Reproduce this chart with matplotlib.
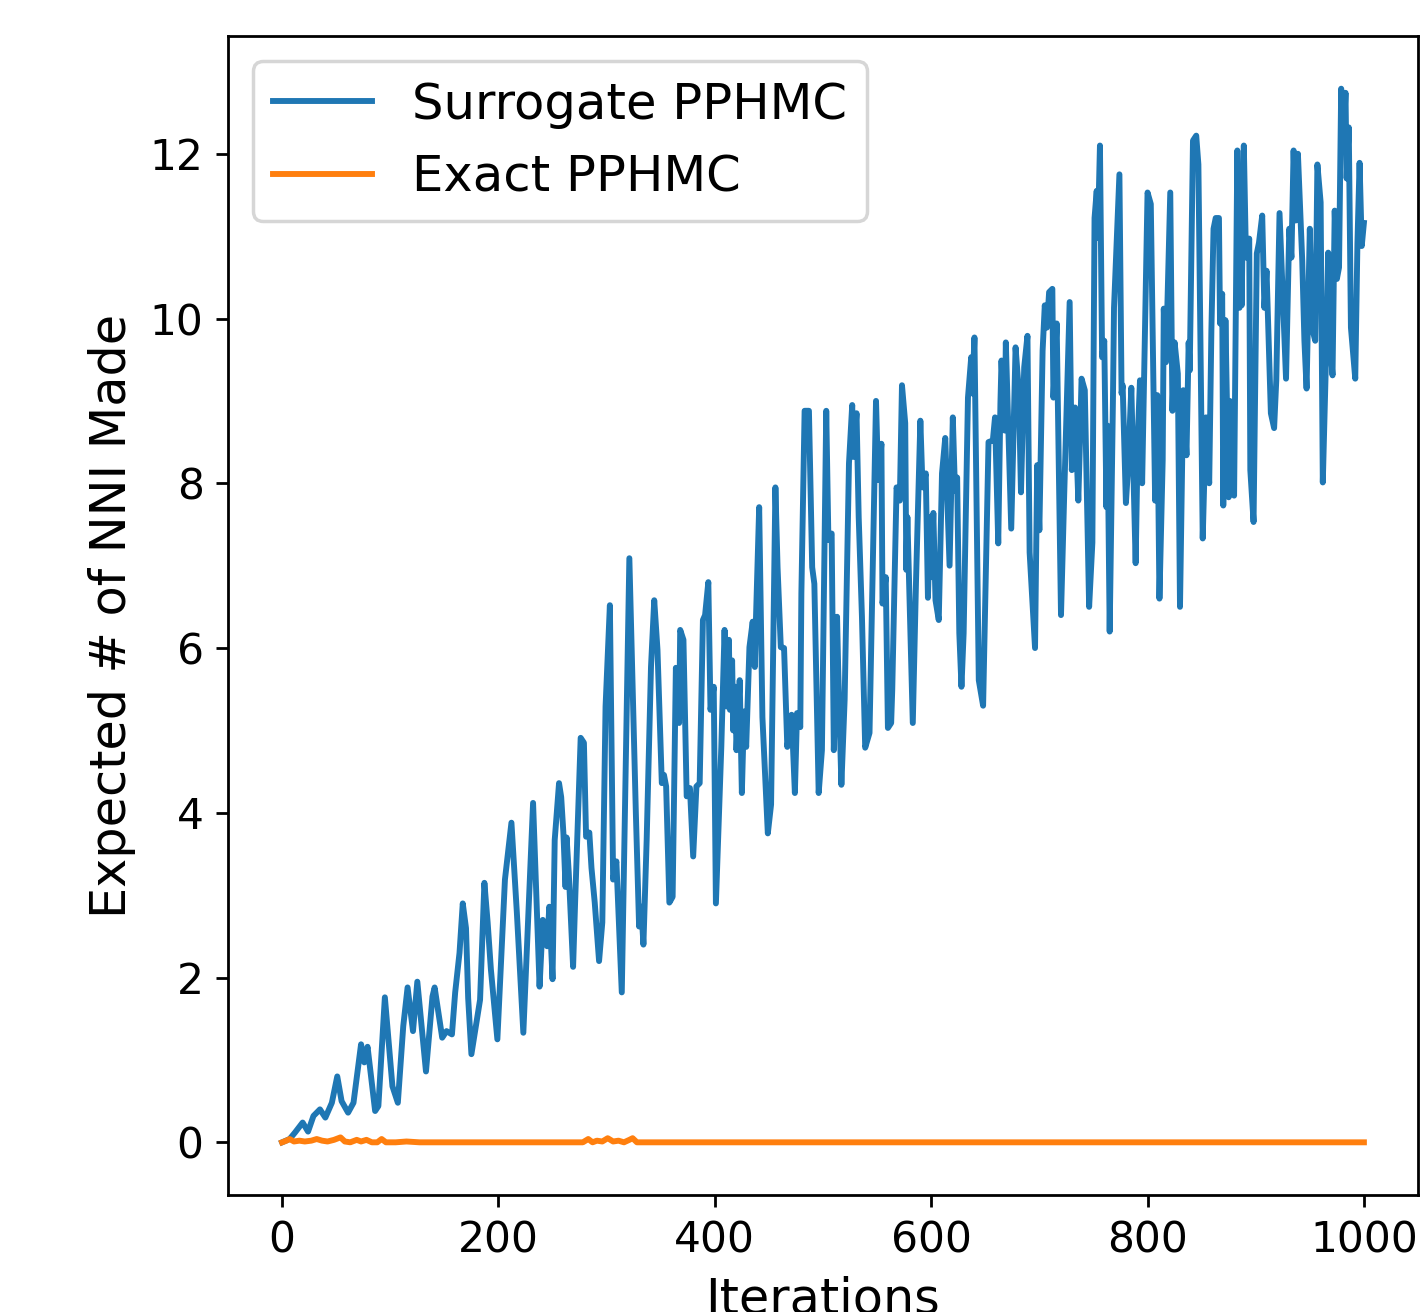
import matplotlib
matplotlib.use("Agg")
import matplotlib.pyplot as plt

# Surrogate PPHMC (blue) — turning points
surr_iter = [0, 7, 12, 19, 24, 29, 35, 40, 46, 51, 55, 61, 66, 73, 76, 79, 86, 89, 95, 102,
             107, 112, 116, 121, 125, 133, 139, 141, 148, 152, 157, 160, 164, 167, 170, 172, 175, 179, 183, 187,
             190, 193, 199, 206, 212, 217, 223, 232, 238, 241, 245, 247, 250, 252, 256, 258, 260, 262, 263, 265,
             269, 271, 276, 279, 281, 284, 286, 289, 293, 296, 299, 303, 306, 309, 314, 321, 327, 330, 332, 334,
             337, 341, 344, 347, 351, 353, 355, 358, 361, 364, 367, 368, 371, 374, 377, 380, 383, 386, 389, 391,
             394, 396, 399, 401, 406, 409, 411, 413, 414, 416, 417, 419, 420, 423, 425, 427, 429, 432, 435, 437,
             438, 441, 444, 449, 452, 456, 458, 461, 464, 467, 471, 474, 476, 479, 480, 483, 487, 490, 492, 496,
             499, 503, 505, 508, 510, 513, 514, 517, 520, 524, 527, 528, 531, 533, 536, 539, 543, 549, 551, 554,
             555, 558, 560, 563, 564, 568, 571, 573, 576, 577, 578, 583, 586, 590, 592, 595, 597, 599, 600, 602,
             604, 607, 610, 613, 617, 620, 622, 624, 626, 628, 630, 634, 637, 638, 640, 644, 648, 653, 657, 659,
             662, 664, 665, 668, 669, 674, 678, 681, 683, 686, 689, 691, 696, 698, 700, 703, 705, 707, 709, 712,
             713, 716, 720, 723, 728, 730, 733, 736, 738, 739, 742, 746, 749, 751, 753, 754, 756, 758, 760, 762,
             763, 765, 768, 769, 774, 776, 777, 780, 782, 785, 789, 791, 793, 795, 800, 803, 807, 809, 811, 814,
             815, 817, 821, 823, 825, 828, 830, 833, 836, 838, 839, 842, 845, 847, 851, 854, 857, 859, 861, 863,
             866, 867, 869, 870, 872, 875, 876, 880, 883, 885, 886, 887, 889, 891, 894, 895, 898, 901, 903, 906,
             908, 910, 914, 917, 919, 922, 924, 928, 931, 933, 935, 937, 939, 943, 945, 947, 950, 952, 955, 957,
             960, 962, 965, 967, 969, 971, 973, 975, 977, 979, 981, 983, 984, 986, 988, 992, 994, 996, 998, 1000]
surr_vals = [0.00, 0.04, 0.12, 0.24, 0.13, 0.32, 0.40, 0.30, 0.48, 0.80, 0.50, 0.36, 0.48, 1.19, 0.97, 1.16, 0.38, 0.44, 1.76, 0.68,
             0.48, 1.41, 1.88, 1.35, 1.95, 0.86, 1.77, 1.88, 1.27, 1.35, 1.31, 1.82, 2.30, 2.90, 2.60, 1.75, 1.07, 1.40, 1.73, 3.15,
             2.67, 2.10, 1.25, 3.19, 3.88, 2.79, 1.33, 4.12, 1.89, 2.70, 2.38, 2.86, 1.98, 3.67, 4.36, 4.19, 3.76, 3.10, 3.70, 3.27,
             2.13, 2.97, 4.91, 4.85, 3.71, 3.76, 3.33, 2.91, 2.20, 2.67, 5.29, 6.52, 3.19, 3.41, 1.82, 7.09, 4.00, 2.62, 2.86, 2.40,
             3.67, 5.77, 6.58, 5.98, 4.36, 4.46, 4.32, 2.91, 2.98, 5.76, 5.09, 6.22, 6.10, 4.20, 4.30, 3.47, 4.32, 4.36, 6.34, 6.40,
             6.80, 5.25, 5.53, 2.90, 4.80, 6.22, 5.29, 6.10, 5.25, 5.85, 5.00, 5.53, 4.76, 5.61, 4.24, 5.23, 4.80, 6.01, 6.32, 5.77,
             6.34, 7.71, 5.16, 3.75, 4.10, 7.95, 6.98, 6.01, 6.00, 4.80, 5.19, 4.24, 5.21, 5.04, 6.66, 8.88, 8.88, 6.98, 6.78, 4.24,
             4.76, 8.88, 7.31, 7.39, 4.76, 6.38, 5.77, 4.34, 5.37, 8.24, 8.95, 8.32, 8.85, 7.59, 6.38, 4.79, 4.97, 9.00, 8.04, 8.48,
             6.54, 6.86, 5.03, 5.09, 5.49, 7.95, 7.79, 9.19, 8.73, 6.95, 7.59, 5.09, 6.82, 8.76, 7.95, 8.12, 6.61, 7.59, 6.86, 7.64,
             6.58, 6.34, 8.12, 8.55, 7.00, 8.80, 7.91, 8.07, 6.18, 5.53, 6.18, 9.04, 9.53, 9.09, 9.77, 5.61, 5.30, 8.50, 8.52, 8.80,
             7.27, 8.97, 9.49, 8.64, 9.71, 7.45, 9.65, 9.13, 7.89, 9.41, 9.79, 7.16, 6.00, 8.22, 7.43, 9.61, 10.16, 9.89, 10.32, 10.36,
             9.04, 9.94, 6.40, 7.88, 10.20, 8.16, 8.92, 7.79, 8.74, 9.27, 9.13, 6.50, 7.28, 11.22, 11.55, 10.98, 12.10, 9.53, 9.73, 7.71,
             8.70, 6.20, 9.00, 10.13, 11.75, 9.09, 9.19, 7.76, 8.19, 9.16, 7.03, 8.56, 9.25, 8.00, 11.53, 11.39, 7.79, 9.07, 6.60, 8.28,
             10.12, 9.47, 11.53, 8.88, 9.71, 9.33, 6.50, 9.13, 8.34, 9.71, 9.37, 12.16, 12.22, 11.87, 7.33, 8.80, 8.00, 9.85, 11.09, 11.22,
             11.22, 9.94, 10.30, 7.73, 9.98, 7.83, 9.00, 7.85, 12.04, 10.13, 11.60, 10.16, 12.10, 10.74, 10.97, 8.16, 7.53, 10.79, 10.92, 11.25,
             10.13, 10.58, 8.85, 8.67, 9.25, 11.28, 10.62, 9.27, 11.09, 10.74, 12.04, 11.19, 12.00, 10.70, 9.73, 9.15, 11.09, 9.89, 9.73, 11.87,
             11.41, 8.01, 9.53, 10.80, 9.65, 9.31, 11.31, 10.48, 10.62, 12.79, 12.12, 12.74, 11.70, 12.32, 9.89, 9.27, 10.91, 11.89, 10.88, 11.16]

# Exact PPHMC (orange)
exact_iter = [0, 4, 7, 11, 16, 21, 27, 32, 37, 42, 48, 54, 58, 63, 69, 73, 78, 83, 88, 92,
              96, 105, 115, 127, 278, 283, 287, 291, 296, 301, 306, 311, 316, 321, 324, 328, 1000]
exact_vals = [0.0, 0.02, 0.04, 0.01, 0.02, 0.01, 0.02, 0.04, 0.02, 0.01, 0.03, 0.06, 0.01, 0.0, 0.03, 0.01, 0.03, 0.0, 0.0, 0.04,
              0.0, 0.0, 0.01, 0.0, 0.0, 0.04, 0.0, 0.02, 0.01, 0.05, 0.01, 0.02, 0.0, 0.03, 0.05, 0.0, 0.0]

labels = ["Surrogate PPHMC", "Exact PPHMC"]
xlabel = "Iterations"
ylabel = "Expected # of NNI Made"

DPI = 250
fig = plt.figure(figsize=(1420 / DPI, 1312 / DPI), dpi=DPI)
ax = fig.add_axes([228 / 1420, 1 - 1195 / 1312, (1418 - 228) / 1420, (1195 - 36) / 1312])

ax.plot(surr_iter, surr_vals, color="#1f77b4", lw=1.7, label=labels[0])
ax.plot(exact_iter, exact_vals, color="#ff7f0e", lw=1.7, label=labels[1])

ax.set_yticks([0, 2, 4, 6, 8, 10, 12])
ax.set_xticks([0, 200, 400, 600, 800, 1000])
ax.tick_params(labelsize=12.2)
ax.set_xlabel(xlabel, fontsize=14.2)
ax.set_ylabel(ylabel, fontsize=14.2)
ax.legend(loc="upper left", fontsize=14.3)

fig.savefig("out.png", dpi=DPI)
